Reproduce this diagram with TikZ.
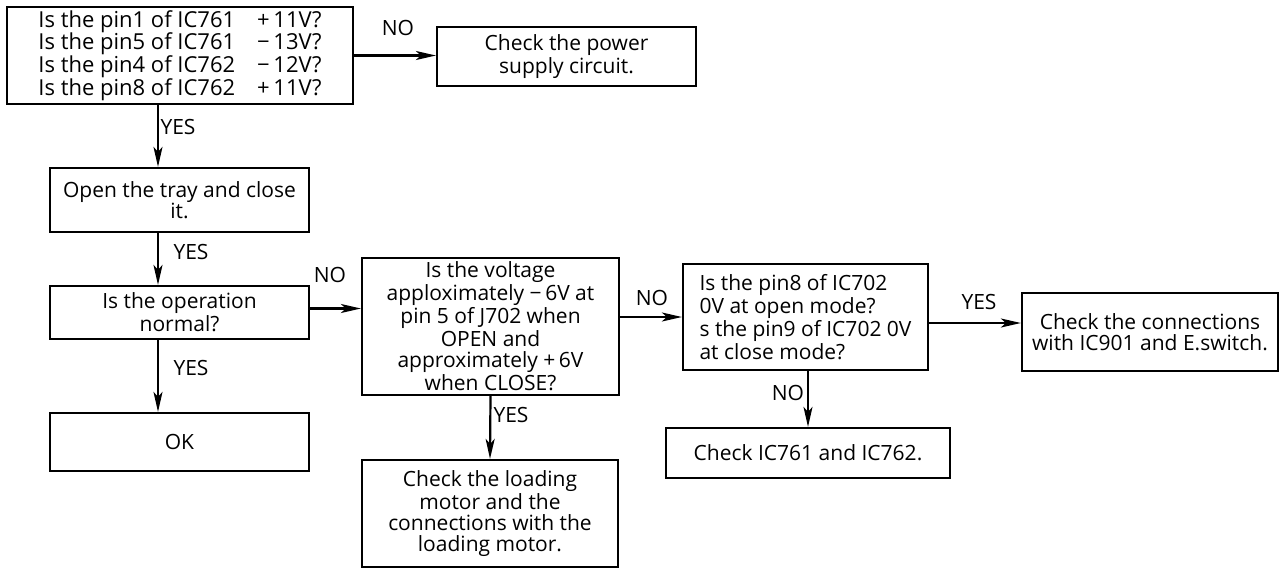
\documentclass[tikz,border=0pt]{standalone}
\usepackage{fontspec}
\setmainfont{Open Sans}
\usetikzlibrary{arrows.meta,positioning,calc}

\begin{document}
\begin{tikzpicture}[x=0.5pt, y=-0.5pt, >={Stealth[length=10pt,width=4.5pt,inset=2.5pt]},
  box/.style={draw, line width=1.1pt, align=center, inner sep=1pt, font=\fontsize{10.5}{10.4}\selectfont},
  lbl/.style={font=\fontsize{10.5}{10.4}\selectfont, inner sep=0pt},
  flow/.style={->, line width=1.1pt}]
\useasboundingbox (0,0) rectangle (1282,569);
\node[box, align=left, minimum width=173pt, minimum height=48.5pt, font=\fontsize{11}{11.3}\selectfont] (pins) at (180,55.5)
  {Is the pin1 of IC761\quad +\,11V?\\Is the pin5 of IC761\quad −\,13V?\\Is the pin4 of IC762\quad −\,12V?\\Is the pin8 of IC762\quad +\,11V?};
\node[box, minimum width=129.5pt, minimum height=29.5pt] (pwr) at (566.5,56.5) {Check the power\\supply circuit.};
\node[box, minimum width=129.5pt, minimum height=32pt] (tray) at (179.5,200) {Open the tray and close\\it.};
\node[box, minimum width=129.5pt, minimum height=26.5pt] (oper) at (179.5,312.5) {Is the operation\\normal?};
\node[box, minimum width=129.5pt, minimum height=29pt] (ok) at (179.5,442) {OK};
\node[box, minimum width=128.5pt, minimum height=68.5pt] (volt) at (490.5,326.5)
  {Is the voltage\\apploximately −\,6V at\\pin 5 of J702 when\\OPEN and\\approximately +\,6V\\when CLOSE?};
\node[box, minimum width=128pt, minimum height=53.5pt] (motor) at (490,513.5)
  {Check the loading\\motor and the\\connections with the\\loading motor.};
\node[box, align=left, minimum width=122.5pt, minimum height=53pt] (pin8) at (805.5,317)
  {Is the pin8 of IC702\\0V at open mode?\\s the pin9 of IC702 0V\\at close mode?};
\node[box, minimum width=142pt, minimum height=25pt] (ic) at (808,453) {Check IC761 and IC762.};
\node[box, minimum width=128pt, minimum height=39pt] (conn) at (1150,332) {Check the connections\\with IC901 and E.switch.};

% left column runs a bit left of the box centres
\coordinate (col) at (158,0);
\draw[flow] (pins.east) -- (pins.east -| pwr.west);
\draw[flow] (pins.south -| col) -- (tray.north -| col);
\draw[flow] (tray.south -| col) -- (oper.north -| col);
\draw[flow] (oper.south -| col) -- (ok.north -| col);
\draw[flow] ([yshift=2pt]oper.east) -- ([yshift=2pt]oper.east -| volt.west);
\draw[flow] (volt.south) -- (motor.north);
\draw[flow] (volt.east |- pin8.west) -- (pin8.west);
\draw[flow] ([yshift=-3pt]pin8.east) -- ([yshift=-3pt]pin8.east -| conn.west);
\draw[flow] (pin8.south -| ic.north) -- (ic.north);

\node[lbl] (n1) at (398,28) {NO};
\node[lbl] (y1) at (178,127) {YES};
\node[lbl] (y2) at (191,252) {YES};
\node[lbl] (y3) at (191,368) {YES};
\node[lbl] (n2) at (330,275) {NO};
\node[lbl] (y4) at (511,415) {YES};
\node[lbl] (n3) at (652,298) {NO};
\node[lbl] (y5) at (979,302) {YES};
\node[lbl] (n4) at (788,393) {NO};
\end{tikzpicture}
\end{document}
